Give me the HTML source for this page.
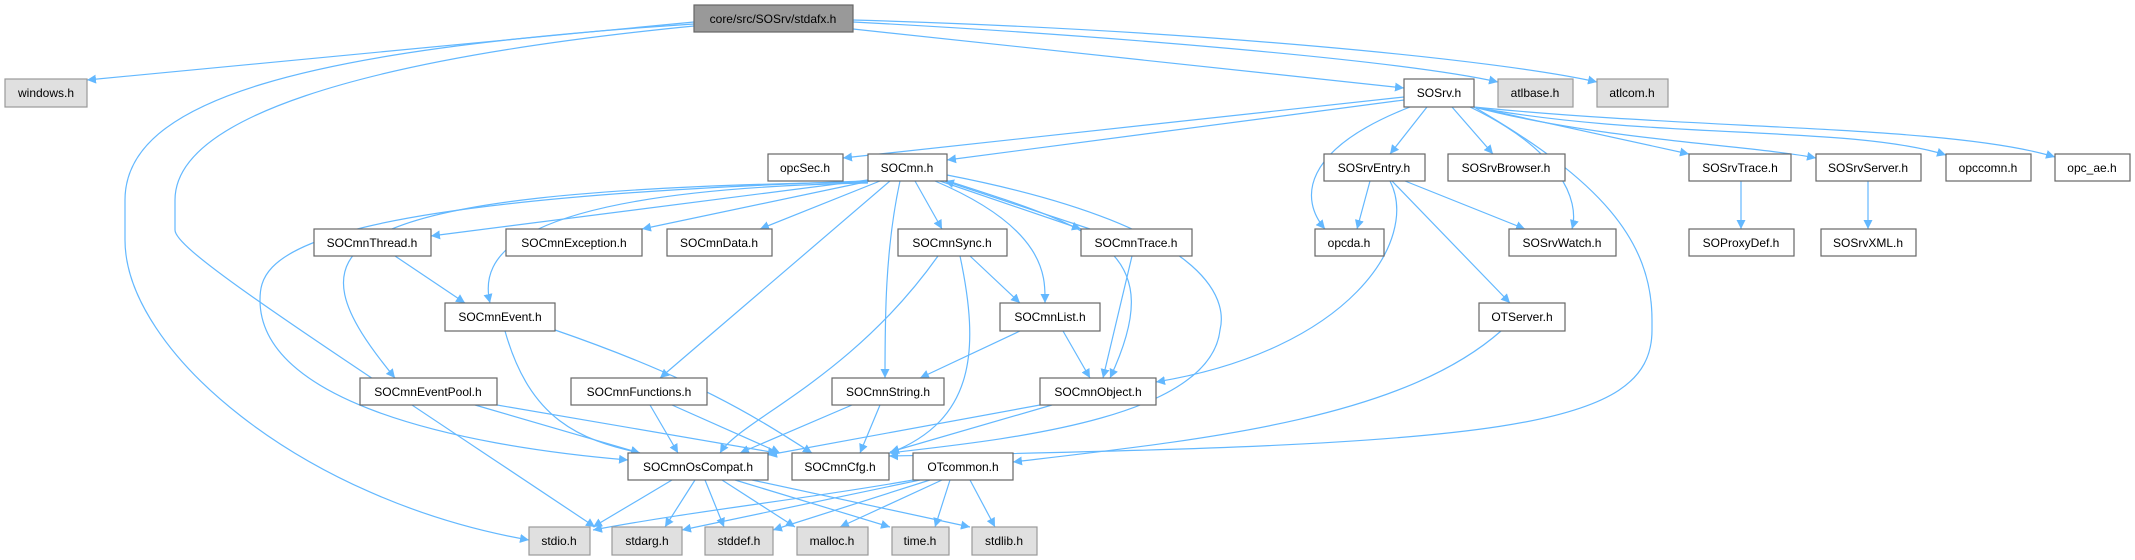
<!DOCTYPE html>
<html><head><meta charset="utf-8"><style>
body{margin:0;background:#fff}
svg{display:block}
text{font-family:"Liberation Sans",sans-serif;font-size:12px;fill:#000;text-anchor:middle}
.e{fill:none;stroke:#63b8ff;stroke-width:1.2}
</style></head><body>
<svg width="2135" height="560" viewBox="0 0 2135 560" xmlns="http://www.w3.org/2000/svg">
<defs><marker id="a" viewBox="0 0 10 10" refX="10" refY="5" markerWidth="9" markerHeight="9" orient="auto" markerUnits="userSpaceOnUse"><path d="M0,0L10,5L0,10z" fill="#63b8ff"/></marker></defs>
<g marker-end="url(#a)">
<path class="e" d="M694,22L87,80"/>
<path class="e" d="M694,24C300,50 125,100 125,200L125,240C125,350 300,500 529,540"/>
<path class="e" d="M694,26C350,60 175,120 175,200L175,230C175,250 300,330 595,527"/>
<path class="e" d="M853,29L1404,88"/>
<path class="e" d="M853,22C1100,35 1400,60 1498,82"/>
<path class="e" d="M853,20C1200,30 1500,60 1597,82"/>
<path class="e" d="M1404,97L843,158"/>
<path class="e" d="M1404,100L947,160"/>
<path class="e" d="M1410,107C1300,150 1300,200 1325,229"/>
<path class="e" d="M1427,107L1390,154"/>
<path class="e" d="M1452,107L1493,154"/>
<path class="e" d="M1470,107C1560,150 1580,200 1572,229"/>
<path class="e" d="M1474,107C1600,180 1652,240 1652,320L1652,330C1652,430 1500,445 889,456"/>
<path class="e" d="M1474,107L1689,154"/>
<path class="e" d="M1474,107C1600,140 1750,145 1816,158"/>
<path class="e" d="M1474,107C1650,140 1850,125 1946,155"/>
<path class="e" d="M1474,107C1700,130 1950,125 2055,157"/>
<path class="e" d="M1370,181L1357,229"/>
<path class="e" d="M1405,181L1525,229"/>
<path class="e" d="M1390,181C1420,240 1350,350 1156,382"/>
<path class="e" d="M1392,181L1510,303"/>
<path class="e" d="M1741,181L1741,229"/>
<path class="e" d="M1868,181L1868,229"/>
<path class="e" d="M1501,331C1400,420 1200,440 1013,462"/>
<path class="e" d="M868,180L431,236"/>
<path class="e" d="M870,181L642,229"/>
<path class="e" d="M880,181L760,229"/>
<path class="e" d="M915,181L942,229"/>
<path class="e" d="M890,181L660,378"/>
<path class="e" d="M900,181C885,250 885,320 885,378"/>
<path class="e" d="M935,181C1050,230 1045,280 1045,303"/>
<path class="e" d="M940,181L1081,229"/>
<path class="e" d="M1090,229L945,181"/>
<path class="e" d="M945,180C1100,230 1170,250 1110,378"/>
<path class="e" d="M947,175C1230,230 1225,310 1220,330C1210,420 1000,440 889,453"/>
<path class="e" d="M868,183C500,190 480,260 490,303"/>
<path class="e" d="M868,182C300,190 290,250 395,378"/>
<path class="e" d="M868,181C280,200 260,260 260,300C260,400 450,445 628,460"/>
<path class="e" d="M395,256L465,303"/>
<path class="e" d="M970,256L1020,303"/>
<path class="e" d="M938,256C850,380 740,420 720,453"/>
<path class="e" d="M960,256C980,350 975,420 890,453"/>
<path class="e" d="M1132,256L1103,378"/>
<path class="e" d="M1020,331L920,378"/>
<path class="e" d="M1063,331L1090,378"/>
<path class="e" d="M505,331C530,420 580,440 640,453"/>
<path class="e" d="M555,330C700,380 760,420 812,453"/>
<path class="e" d="M475,405L640,453"/>
<path class="e" d="M497,405L777,453"/>
<path class="e" d="M650,405L678,453"/>
<path class="e" d="M672,405L780,453"/>
<path class="e" d="M852,405L740,453"/>
<path class="e" d="M880,405L860,453"/>
<path class="e" d="M1040,405L768,455"/>
<path class="e" d="M1052,405L890,452"/>
<path class="e" d="M672,480L593,527"/>
<path class="e" d="M695,480L665,527"/>
<path class="e" d="M705,480L724,527"/>
<path class="e" d="M722,480L795,527"/>
<path class="e" d="M735,480L890,527"/>
<path class="e" d="M752,480L970,527"/>
<path class="e" d="M913,480C800,500 700,510 593,530"/>
<path class="e" d="M920,480L682,530"/>
<path class="e" d="M930,480L773,530"/>
<path class="e" d="M942,480L840,527"/>
<path class="e" d="M950,480L935,527"/>
<path class="e" d="M970,480L995,527"/>
</g>
<g stroke="#666" stroke-width="1.2" fill="#fff">
<rect x="694" y="5" width="159" height="27" fill="#999"/>
<rect x="1404" y="79" width="70" height="28"/>
<rect x="768" y="154" width="75" height="27"/>
<rect x="868" y="154" width="79" height="27"/>
<rect x="1324" y="154" width="101" height="27"/>
<rect x="1448" y="154" width="117" height="27"/>
<rect x="1689" y="154" width="102" height="27"/>
<rect x="1816" y="154" width="105" height="27"/>
<rect x="1946" y="154" width="85" height="27"/>
<rect x="2055" y="154" width="75" height="27"/>
<rect x="314" y="229" width="117" height="27"/>
<rect x="506" y="229" width="136" height="27"/>
<rect x="667" y="229" width="105" height="27"/>
<rect x="898" y="229" width="109" height="27"/>
<rect x="1081" y="229" width="111" height="27"/>
<rect x="1315" y="229" width="69" height="27"/>
<rect x="1509" y="229" width="107" height="27"/>
<rect x="1689" y="229" width="105" height="27"/>
<rect x="1821" y="229" width="95" height="27"/>
<rect x="445" y="303" width="110" height="28"/>
<rect x="1000" y="303" width="100" height="28"/>
<rect x="1479" y="303" width="86" height="28"/>
<rect x="360" y="378" width="137" height="27"/>
<rect x="571" y="378" width="136" height="27"/>
<rect x="832" y="378" width="112" height="27"/>
<rect x="1040" y="378" width="116" height="27"/>
<rect x="628" y="453" width="140" height="27"/>
<rect x="792" y="453" width="97" height="27"/>
<rect x="913" y="453" width="100" height="27"/>
</g>
<g stroke="#999" stroke-width="1.2" fill="#e0e0e0">
<rect x="5" y="79" width="82" height="28"/>
<rect x="1498" y="79" width="75" height="28"/>
<rect x="1597" y="79" width="71" height="28"/>
<rect x="529" y="527" width="61" height="28"/>
<rect x="612" y="527" width="70" height="28"/>
<rect x="705" y="527" width="68" height="28"/>
<rect x="797" y="527" width="71" height="28"/>
<rect x="892" y="527" width="57" height="28"/>
<rect x="972" y="527" width="65" height="28"/>
</g>
<g>
<text x="773" y="23">core/src/SOSrv/stdafx.h</text>
<text x="1439" y="97">SOSrv.h</text>
<text x="805" y="172">opcSec.h</text>
<text x="907" y="172">SOCmn.h</text>
<text x="1374" y="172">SOSrvEntry.h</text>
<text x="1506" y="172">SOSrvBrowser.h</text>
<text x="1740" y="172">SOSrvTrace.h</text>
<text x="1868" y="172">SOSrvServer.h</text>
<text x="1988" y="172">opccomn.h</text>
<text x="2092" y="172">opc_ae.h</text>
<text x="372" y="247">SOCmnThread.h</text>
<text x="574" y="247">SOCmnException.h</text>
<text x="719" y="247">SOCmnData.h</text>
<text x="952" y="247">SOCmnSync.h</text>
<text x="1136" y="247">SOCmnTrace.h</text>
<text x="1349" y="247">opcda.h</text>
<text x="1562" y="247">SOSrvWatch.h</text>
<text x="1741" y="247">SOProxyDef.h</text>
<text x="1868" y="247">SOSrvXML.h</text>
<text x="500" y="321">SOCmnEvent.h</text>
<text x="1050" y="321">SOCmnList.h</text>
<text x="1522" y="321">OTServer.h</text>
<text x="428" y="396">SOCmnEventPool.h</text>
<text x="639" y="396">SOCmnFunctions.h</text>
<text x="888" y="396">SOCmnString.h</text>
<text x="1098" y="396">SOCmnObject.h</text>
<text x="698" y="471">SOCmnOsCompat.h</text>
<text x="840" y="471">SOCmnCfg.h</text>
<text x="963" y="471">OTcommon.h</text>
<text x="46" y="97">windows.h</text>
<text x="1535" y="97">atlbase.h</text>
<text x="1632" y="97">atlcom.h</text>
<text x="559" y="545">stdio.h</text>
<text x="647" y="545">stdarg.h</text>
<text x="739" y="545">stddef.h</text>
<text x="832" y="545">malloc.h</text>
<text x="920" y="545">time.h</text>
<text x="1004" y="545">stdlib.h</text>
</g>
</svg>
</body></html>
